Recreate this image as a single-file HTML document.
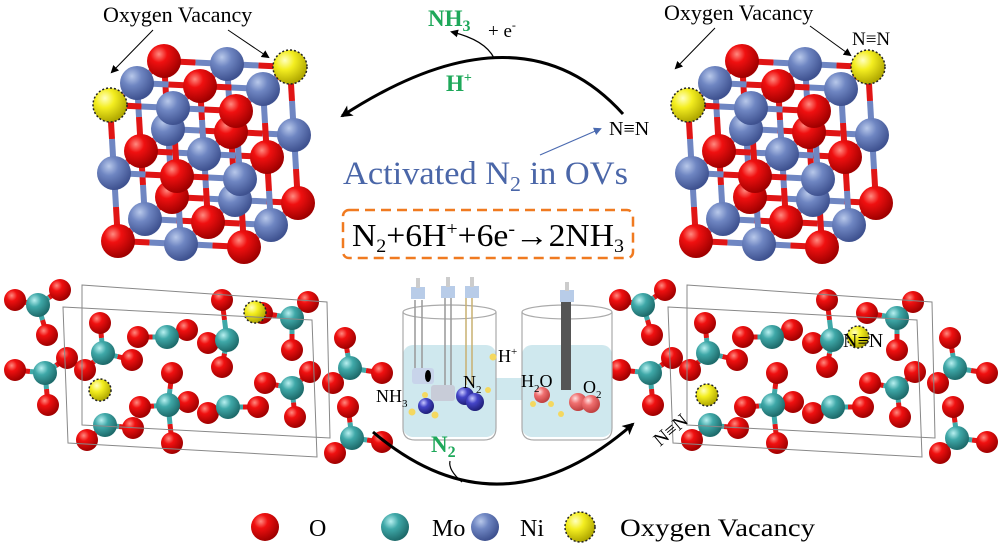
<!DOCTYPE html>
<html><head><meta charset="utf-8"><style>
html,body{margin:0;padding:0;background:#fff;}
svg{display:block;}
text{font-family:"Liberation Serif",serif;}
</style></head><body>
<svg id="s" width="1000" height="550" viewBox="0 0 1000 550" xmlns="http://www.w3.org/2000/svg">
<defs>
<radialGradient id="gr" cx="35%" cy="30%" r="70%"><stop offset="0" stop-color="#ff8a80"/><stop offset="0.35" stop-color="#f01010"/><stop offset="1" stop-color="#a00000"/></radialGradient>
<radialGradient id="gb" cx="35%" cy="30%" r="70%"><stop offset="0" stop-color="#b8c8ea"/><stop offset="0.4" stop-color="#6f86c2"/><stop offset="1" stop-color="#3f5290"/></radialGradient>
<radialGradient id="gt" cx="35%" cy="30%" r="70%"><stop offset="0" stop-color="#b8f0f0"/><stop offset="0.4" stop-color="#3fa8a8"/><stop offset="1" stop-color="#1e6b6b"/></radialGradient>
<radialGradient id="gy" cx="35%" cy="30%" r="70%"><stop offset="0" stop-color="#ffffc0"/><stop offset="0.4" stop-color="#f4ee20"/><stop offset="1" stop-color="#b0a800"/></radialGradient>
<radialGradient id="gp" cx="35%" cy="30%" r="70%"><stop offset="0" stop-color="#ffe0e0"/><stop offset="0.4" stop-color="#f07070"/><stop offset="1" stop-color="#c04040"/></radialGradient>
<radialGradient id="gv" cx="35%" cy="30%" r="70%"><stop offset="0" stop-color="#c8c8ff"/><stop offset="0.4" stop-color="#4545c8"/><stop offset="1" stop-color="#20207a"/></radialGradient>
<marker id="ah" markerWidth="8" markerHeight="8" refX="6" refY="4" orient="auto" markerUnits="userSpaceOnUse"><path d="M0,0 L8,4 L0,8 z" fill="#000"/></marker>
<marker id="ahb" markerWidth="8" markerHeight="8" refX="6" refY="4" orient="auto" markerUnits="userSpaceOnUse"><path d="M0,0 L8,4 L0,8 z" fill="#4a6ab0"/></marker>
<marker id="ahL" markerWidth="14" markerHeight="12" refX="10" refY="6" orient="auto" markerUnits="userSpaceOnUse"><path d="M0,0 L12,6 L0,12 L3,6 z" fill="#000"/></marker>
</defs>
<g id="atoms"></g>

<g fill="none" stroke="#888" stroke-width="1">
<polygon points="63,307 312,320 317,457 68,443"/>
<polygon points="82,285 327,302 330,438 82,425"/>
<polygon points="668,307 917,320 922,457 673,443"/>
<polygon points="687,285 932,302 935,438 687,425"/>
</g>

<text x="103" y="22" font-size="22">Oxygen Vacancy</text>
<text x="664" y="20" font-size="22">Oxygen Vacancy</text>
<line x1="153" y1="30" x2="112" y2="72" stroke="#000" stroke-width="1" marker-end="url(#ah)"/>
<line x1="228" y1="30" x2="268" y2="57" stroke="#000" stroke-width="1" marker-end="url(#ah)"/>
<line x1="715" y1="28" x2="676" y2="68" stroke="#000" stroke-width="1" marker-end="url(#ah)"/>
<line x1="810" y1="26" x2="850" y2="55" stroke="#000" stroke-width="1" marker-end="url(#ah)"/>
<text x="852" y="45" font-size="19">N≡N</text>

<path d="M623,114 Q520,0 342,116" fill="none" stroke="#000" stroke-width="3" marker-end="url(#ahL)"/>
<path d="M494,58 Q485,40 452,32" fill="none" stroke="#000" stroke-width="1.3" marker-end="url(#ah)"/>
<text x="428" y="26" font-size="23" font-weight="bold" fill="#1ea85a">NH<tspan font-size="16" dy="5">3</tspan></text>
<text x="488" y="37" font-size="19">+ e<tspan font-size="12" dy="-8">-</tspan></text>
<text x="446" y="91" font-size="23" font-weight="bold" fill="#1ea85a">H<tspan font-size="14" dy="-9">+</tspan></text>
<text x="609" y="135" font-size="20">N≡N</text>
<line x1="540" y1="155" x2="600" y2="129" stroke="#4a6ab0" stroke-width="1.2" marker-end="url(#ahb)"/>
<text x="343" y="184" font-size="33" fill="#4a66a8" textLength="285" lengthAdjust="spacingAndGlyphs">Activated N<tspan font-size="21" dy="7">2</tspan><tspan dy="-7"> in OVs</tspan></text>
<rect x="343" y="210" width="290" height="48" rx="6" fill="none" stroke="#f07a20" stroke-width="2.5" stroke-dasharray="10,6"/>
<text x="352" y="246" font-size="32" textLength="272" lengthAdjust="spacingAndGlyphs">N<tspan font-size="19" dy="6">2</tspan><tspan dy="-6">+6H</tspan><tspan font-size="19" dy="-11">+</tspan><tspan dy="11">+6e</tspan><tspan font-size="19" dy="-11">-</tspan><tspan dy="11">→2NH</tspan><tspan font-size="19" dy="6">3</tspan></text>

<g>
<rect x="403" y="345" width="93" height="92" rx="10" fill="#cfe8ee"/>
<rect x="522" y="345" width="90" height="92" rx="10" fill="#cfe8ee"/>
<rect x="494" y="378" width="30" height="22" fill="#cfe8ee"/>
<path d="M403,312 L403,428 Q403,440 415,440 L484,440 Q496,440 496,428 L496,312" fill="none" stroke="#aaa" stroke-width="1.2"/>
<ellipse cx="449.5" cy="312" rx="46.5" ry="7" fill="none" stroke="#aaa" stroke-width="1.2"/>
<path d="M522,312 L522,428 Q522,440 534,440 L600,440 Q612,440 612,428 L612,312" fill="none" stroke="#aaa" stroke-width="1.2"/>
<ellipse cx="567" cy="312" rx="45" ry="7" fill="none" stroke="#aaa" stroke-width="1.2"/>
<line x1="415" y1="300" x2="415" y2="375" stroke="#999" stroke-width="1.5"/>
<line x1="422" y1="300" x2="422" y2="375" stroke="#999" stroke-width="1.5"/>
<line x1="445" y1="295" x2="445" y2="385" stroke="#999" stroke-width="1.5"/>
<line x1="451" y1="295" x2="451" y2="385" stroke="#999" stroke-width="1.5"/>
<line x1="466" y1="295" x2="466" y2="385" stroke="#c8b070" stroke-width="1.5"/>
<line x1="472" y1="295" x2="472" y2="385" stroke="#c8b070" stroke-width="1.5"/>
<rect x="411" y="287" width="14" height="12" fill="#b8cce8"/><rect x="416" y="278" width="4" height="10" fill="#ccc"/>
<rect x="441" y="286" width="14" height="12" fill="#b8cce8"/><rect x="446" y="277" width="4" height="10" fill="#ccc"/>
<rect x="465" y="286" width="14" height="12" fill="#b8cce8"/><rect x="470" y="277" width="4" height="10" fill="#ccc"/>
<rect x="560" y="290" width="14" height="12" fill="#b8cce8"/><rect x="565" y="282" width="4" height="9" fill="#ccc"/>
<rect x="561" y="302" width="10" height="88" fill="#555"/>
<rect x="412" y="368" width="22" height="16" rx="3" fill="#c8d4ea"/><ellipse cx="428" cy="376" rx="3" ry="6" fill="#000"/>
<rect x="431" y="385" width="24" height="16" rx="3" fill="#c8ccd8"/>
<circle cx="426" cy="406" r="8" fill="url(#gv)"/>
<circle cx="465" cy="396" r="9" fill="url(#gv)"/><circle cx="475" cy="402" r="9" fill="url(#gv)"/>
<circle cx="542" cy="395" r="8" fill="url(#gp)"/>
<circle cx="578" cy="402" r="9" fill="url(#gp)"/><circle cx="591" cy="404" r="9" fill="url(#gp)"/>
<g fill="#f4d860"><circle cx="493" cy="357" r="3.5"/><circle cx="412" cy="412" r="3.5"/><circle cx="435" cy="415" r="3.5"/><circle cx="425" cy="395" r="3"/><circle cx="488" cy="390" r="3"/><circle cx="533" cy="404" r="3"/><circle cx="551" cy="404" r="3"/><circle cx="561" cy="414" r="3"/></g>
<text x="498" y="362" font-size="18">H<tspan font-size="11" dy="-7">+</tspan></text>
<text x="463" y="388" font-size="18">N<tspan font-size="11" dy="5">2</tspan></text>
<text x="376" y="402" font-size="18">NH<tspan font-size="11" dy="5">3</tspan></text>
<text x="521" y="387" font-size="18">H<tspan font-size="11" dy="5">2</tspan><tspan dy="-5">O</tspan></text>
<text x="583" y="393" font-size="18">O<tspan font-size="11" dy="5">2</tspan></text>
</g>

<path d="M373,432 Q500,540 633,424" fill="none" stroke="#000" stroke-width="3" marker-end="url(#ahL)"/>
<path d="M450,461 Q448,470 462,482" fill="none" stroke="#000" stroke-width="1.2"/>
<text x="431" y="452" font-size="23" font-weight="bold" fill="#1ea85a">N<tspan font-size="16" dy="5">2</tspan></text>
<text x="0" y="0" font-size="19" transform="translate(660,447) rotate(-40)">N≡N</text>
<text x="843" y="347" font-size="20">N≡N</text>

<circle cx="265" cy="527" r="14" fill="url(#gr)"/>
<text x="309" y="536" font-size="24">O</text>
<circle cx="395" cy="527" r="14" fill="url(#gt)"/>
<text x="432" y="536" font-size="24">Mo</text>
<circle cx="485" cy="527" r="14" fill="url(#gb)"/>
<text x="520" y="536" font-size="24">Ni</text>
<circle cx="580" cy="527" r="15" fill="url(#gy)" stroke="#222" stroke-width="1.5" stroke-dasharray="2,2"/>
<text x="620" y="536" font-size="25" textLength="195" lengthAdjust="spacingAndGlyphs">Oxygen Vacancy</text>
</svg>
<script>
var NS="http://www.w3.org/2000/svg",g=document.getElementById("atoms");
function el(t,a){var e=document.createElementNS(NS,t);for(var k in a)e.setAttribute(k,a[k]);g.appendChild(e);return e;}
function atom(x,y,r,c){var f={r:"url(#gr)",b:"url(#gb)",t:"url(#gt)",y:"url(#gy)"}[c];var a={cx:x,cy:y,r:r,fill:f};if(c=="y"){a.stroke="#222";a["stroke-width"]=1.5;a["stroke-dasharray"]="2,2";}el("circle",a);}
function cube(ox,oy,yel){
 function P(i,j,k){return [ox+i*63+j*4+k*27, oy+i*3+j*68-k*22];}
 var pts=[];for(var k=2;k>=0;k--)for(var j=0;j<3;j++)for(var i=0;i<3;i++)pts.push([i,j,k]);
 for(var n=0;n<pts.length;n++){var p=pts[n],a=P(p[0],p[1],p[2]);
  [[1,0,0],[0,1,0],[0,0,1]].forEach(function(d){var q=[p[0]+d[0],p[1]+d[1],p[2]+d[2]];if(q[0]>2||q[1]>2||q[2]>2)return;var b=P(q[0],q[1],q[2]);var m=[(a[0]+b[0])/2,(a[1]+b[1])/2];
   var ca=(p[0]+p[1]+p[2])%2?"#6f86c2":"#e01515",cb=(p[0]+p[1]+p[2])%2?"#e01515":"#6f86c2";
   el("line",{x1:a[0],y1:a[1],x2:m[0],y2:m[1],stroke:ca,"stroke-width":6});el("line",{x1:m[0],y1:m[1],x2:b[0],y2:b[1],stroke:cb,"stroke-width":6});});}
 for(var n=0;n<pts.length;n++){var p=pts[n],a=P(p[0],p[1],p[2]);var key=p.join(",");var c=(p[0]+p[1]+p[2])%2?"b":"r";if(yel.indexOf(key)>=0)c="y";atom(a[0],a[1],17,c);}
}
cube(110,105,["0,0,0","2,0,2"]);
cube(688,105,["0,0,0","2,0,2"]);
var mo=[[643,305],[650,373],[708,353],[710,425],[772,337],[773,405],[832,340],[833,407],[897,318],[897,388],[955,368],[957,438]];
var ox=[[620,300],[665,290],[652,335],[620,370],[653,405],[672,358],[690,370],[705,323],[737,360],[692,440],[738,428],[743,337],[792,330],[813,343],[827,300],[777,373],[827,367],[745,407],[793,402],[813,413],[863,407],[777,443],[867,313],[913,302],[897,350],[870,383],[915,372],[938,383],[900,417],[950,338],[987,373],[953,407],[987,442],[940,453]];
function slab(dx,yl){
 ox.forEach(function(o){var best=null,bd=1e9;mo.forEach(function(m){var d=Math.hypot(m[0]-o[0],m[1]-o[1]);if(d<bd){bd=d;best=m;}});if(bd<60){var mx=(o[0]+best[0])/2+dx,my=(o[1]+best[1])/2;el("line",{x1:o[0]+dx,y1:o[1],x2:mx,y2:my,stroke:"#e01515","stroke-width":5});el("line",{x1:mx,y1:my,x2:best[0]+dx,y2:best[1],stroke:"#3fa8a8","stroke-width":5});}});
 ox.forEach(function(o){atom(o[0]+dx,o[1],11,"r");});
 mo.forEach(function(m){atom(m[0]+dx,m[1],12,"t");});
 yl.forEach(function(y){atom(y[0],y[1],11,"y");});
}
slab(-605,[[255,312],[100,390]]);
slab(0,[[858,337],[707,395]]);
</script>
</body></html>
